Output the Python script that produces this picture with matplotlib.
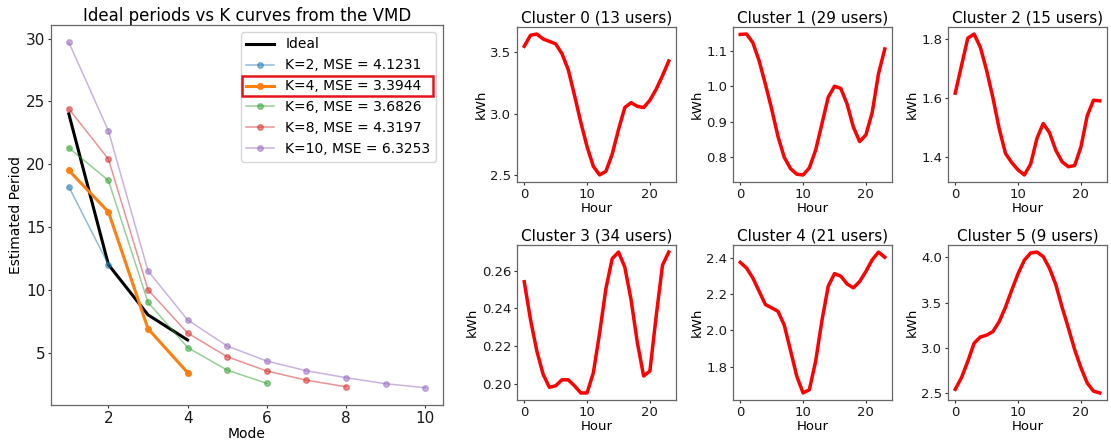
import matplotlib
matplotlib.use("Agg")
import matplotlib.pyplot as plt
from matplotlib.patches import Rectangle
import numpy as np

# ---------------- data ----------------
modes_ideal = [1, 2, 3, 4]
ideal = [24.0, 12.0, 8.0, 6.0]

k_labels = ["K=2, MSE = 4.1231", "K=4, MSE = 3.3944", "K=6, MSE = 3.6826",
            "K=8, MSE = 4.3197", "K=10, MSE = 6.3253"]
k2 = [18.2, 12.0]
k4 = [19.5, 16.2, 6.9, 3.4]
k6 = [21.3, 18.7, 9.0, 5.4, 3.6, 2.55]
k8 = [24.4, 20.4, 10.0, 6.55, 4.67, 3.53, 2.8, 2.28]
k10 = [29.7, 22.65, 11.5, 7.6, 5.52, 4.32, 3.55, 3.0, 2.52, 2.2]

hours = list(range(24))
cluster_titles = ["Cluster 0 (13 users)", "Cluster 1 (29 users)", "Cluster 2 (15 users)",
                  "Cluster 3 (34 users)", "Cluster 4 (21 users)", "Cluster 5 (9 users)"]
c0 = [3.55, 3.64, 3.65, 3.61, 3.59, 3.57, 3.49, 3.36, 3.15, 2.93, 2.73, 2.57,
      2.50, 2.53, 2.67, 2.87, 3.05, 3.09, 3.06, 3.05, 3.11, 3.20, 3.31, 3.43]
c1 = [1.146, 1.147, 1.123, 1.072, 1.006, 0.936, 0.859, 0.800, 0.768, 0.752, 0.750, 0.770,
      0.820, 0.894, 0.969, 1.000, 0.994, 0.950, 0.885, 0.844, 0.863, 0.926, 1.035, 1.105]
c2 = [1.616, 1.710, 1.803, 1.817, 1.772, 1.693, 1.600, 1.495, 1.411, 1.380, 1.355, 1.338,
      1.375, 1.462, 1.513, 1.482, 1.422, 1.383, 1.366, 1.370, 1.433, 1.539, 1.592, 1.590]
c3 = [0.2542, 0.234, 0.2174, 0.205, 0.198, 0.1988, 0.202, 0.202, 0.1988, 0.195, 0.195, 0.2058,
      0.227, 0.2506, 0.2665, 0.270, 0.262, 0.2446, 0.2218, 0.204, 0.2067, 0.236, 0.263, 0.270]
c4 = [2.376, 2.345, 2.290, 2.217, 2.143, 2.125, 2.106, 2.030, 1.890, 1.747, 1.655, 1.673,
      1.830, 2.055, 2.244, 2.314, 2.300, 2.257, 2.235, 2.270, 2.326, 2.390, 2.433, 2.404]
c5 = [2.54, 2.67, 2.85, 3.05, 3.12, 3.14, 3.18, 3.29, 3.45, 3.64, 3.82, 3.97,
      4.05, 4.06, 4.01, 3.88, 3.70, 3.45, 3.22, 2.98, 2.78, 2.61, 2.52, 2.50]
clusters = [c0, c1, c2, c3, c4, c5]

# ---------------- figure ----------------
W, H = 1111, 441
fig = plt.figure(figsize=(W / 100, H / 100), dpi=100)

spine_col = "#666666"

def style(ax, tick_fs):
    for s in ax.spines.values():
        s.set_color(spine_col)
        s.set_linewidth(0.9)
    ax.tick_params(labelsize=tick_fs, color="#333333", length=2.2, pad=1.8,
                   labelcolor="#1a1a1a")

def px_axes(x0, y0, x1, y1):
    return fig.add_axes([x0 / W, 1 - y1 / H, (x1 - x0) / W, (y1 - y0) / H])

# left panel
ax = px_axes(51, 25, 443, 405)
style(ax, 11)
ax.plot(modes_ideal, ideal, color="black", lw=2.2, label="Ideal")
series = [k2, k4, k6, k8, k10]
cols = ["C0", "C1", "C2", "C3", "C4"]
for vals, lab, c in zip(series, k_labels, cols):
    x = np.arange(1, len(vals) + 1)
    if lab.startswith("K=4"):
        ax.plot(x, vals, color=c, lw=2.2, marker="o", ms=4, label=lab)
    else:
        ax.plot(x, vals, color=c, lw=1.1, marker="o", ms=4, alpha=0.5, label=lab)
ax.set_xticks([2, 4, 6, 8, 10])
ax.set_yticks([5, 10, 15, 20, 25, 30])
ax.set_xlabel("Mode", fontsize=10, labelpad=1)
ax.set_ylabel("Estimated Period", fontsize=10, labelpad=2)
ax.set_title("Ideal periods vs K curves from the VMD", fontsize=12, pad=3)
leg = ax.legend(loc="upper right", fontsize=10, handlelength=2.0)

# right panels
lefts = [517, 733, 948]
tops = [27, 245]
w, h = 159, 155
for i, (vals, title) in enumerate(zip(clusters, cluster_titles)):
    r, c = divmod(i, 3)
    a = px_axes(lefts[c], tops[r], lefts[c] + w, tops[r] + h)
    style(a, 9.5)
    a.plot(hours, vals, color="red", lw=2.5)
    a.set_title(title, fontsize=11, pad=3)
    a.set_xlabel("Hour", fontsize=9.5, labelpad=1)
    a.set_ylabel("kWh", fontsize=9.5, labelpad=2)
    a.set_xticks([0, 10, 20])

fig.axes[4].set_yticks([0.20, 0.22, 0.24, 0.26])
fig.axes[2].set_yticks([0.8, 0.9, 1.0, 1.1])
fig.axes[5].set_yticks([1.8, 2.0, 2.2, 2.4])

# red box around the K=4 legend entry
fig.canvas.draw()
rend = fig.canvas.get_renderer()
lb = leg.get_window_extent(rend)
tb = leg.get_texts()[2].get_window_extent(rend)
inv = fig.transFigure.inverted()
x0, y0 = inv.transform((lb.x0 + 1, tb.y0 - 3))
x1, y1 = inv.transform((lb.x1 - 3, tb.y1 + 3))
fig.patches.append(Rectangle((x0, y0), x1 - x0, y1 - y0, transform=fig.transFigure,
                             fill=False, edgecolor="#e8141b", lw=1.8, zorder=10))

fig.savefig("out.png", dpi=100)
